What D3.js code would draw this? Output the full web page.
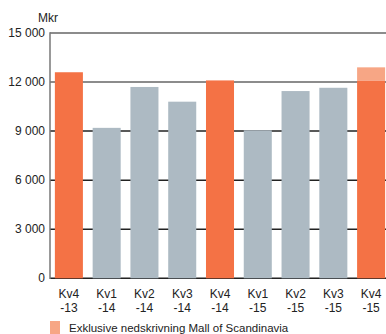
<!DOCTYPE html>
<html>
<head>
<meta charset="utf-8">
<script src="https://cdn.jsdelivr.net/npm/d3@7"></script>
<style>
  body { margin: 0; background: #fff; }
  text { font-family: "Liberation Sans", Arial, sans-serif; fill: #222; }
</style>
</head>
<body>
<div id="chart"></div>
<script>
// kvartal och resultat (Mkr)
var quarters = ["Kv4", "Kv1", "Kv2", "Kv3", "Kv4", "Kv1", "Kv2", "Kv3", "Kv4"];
var years = ["-13", "-14", "-14", "-14", "-14", "-15", "-15", "-15", "-15"];
var values = [12600, 9200, 11700, 10800, 12100, 9050, 11450, 11650, 12100];
var extra = [0, 0, 0, 0, 0, 0, 0, 0, 800];   // exklusive nedskrivning
var highlight = [true, false, false, false, true, false, false, false, true];
var yTicks = [0, 3000, 6000, 9000, 12000, 15000];
var legendLabel = "Exklusive nedskrivning Mall of Scandinavia";

var width = 386, height = 334;
var margins = {top: 33, bottom: 56, left: 50, right: -4};

var svg = d3.select('#chart').append('svg')
    .attr('width', width)
    .attr('height', height);

var x_scale = d3.scaleBand()
    .domain(d3.range(values.length))
    .range([margins.left, width - margins.right])
    .paddingInner(0.258)
    .paddingOuter(0.129);

var y_scale = d3.scaleLinear()
    .domain([0, 15000])
    .range([height - margins.bottom + 0.3, margins.top]);

// gridlines
svg.append('g')
    .selectAll('line')
    .data(yTicks)
    .enter().append('line')
    .attr('x1', margins.left)
    .attr('x2', width)
    .attr('y1', function (d) { return y_scale(d); })
    .attr('y2', function (d) { return y_scale(d); })
    .attr('stroke', function (d) { return d >= 12000 ? '#666' : '#222'; })
    .attr('stroke-width', 1.5);

// tick labels
svg.append('g')
    .selectAll('text')
    .data(yTicks)
    .enter().append('text')
    .attr('x', 45)
    .attr('y', function (d) { return y_scale(d) + 4; })
    .attr('text-anchor', 'end')
    .attr('font-size', '12px')
    .text(function (d) { return d3.format(',')(d).replace(',', ' '); });

svg.append('text')
    .attr('x', 38)
    .attr('y', 22)
    .attr('font-size', '12px')
    .text('Mkr');

// bars
svg.append('g')
    .selectAll('rect')
    .data(values)
    .enter().append('rect')
    .attr('x', function (d, i) { return x_scale(i); })
    .attr('width', x_scale.bandwidth())
    .attr('y', function (d) { return y_scale(d); })
    .attr('height', function (d) { return y_scale(0) - y_scale(d); })
    .attr('fill', function (d, i) { return highlight[i] ? '#f47245' : '#adbac3'; });

// stacked part on top (exklusive nedskrivning)
svg.append('g')
    .selectAll('rect')
    .data(extra)
    .enter().append('rect')
    .attr('x', function (d, i) { return x_scale(i); })
    .attr('width', x_scale.bandwidth())
    .attr('y', function (d, i) { return y_scale(values[i] + d); })
    .attr('height', function (d) { return y_scale(0) - y_scale(d); })
    .attr('fill', '#f7a685');

// y axis line
svg.append('line')
    .attr('x1', margins.left)
    .attr('x2', margins.left)
    .attr('y1', y_scale(15000) - 0.75)
    .attr('y2', y_scale(0) + 0.75)
    .attr('stroke', '#777')
    .attr('stroke-width', 1.5);

// x labels
var xl = svg.append('g')
    .selectAll('g')
    .data(quarters)
    .enter().append('g')
    .attr('transform', function (d, i) {
        return 'translate(' + (x_scale(i) + x_scale.bandwidth() / 2) + ',0)';
    });

xl.append('text')
    .attr('y', 298)
    .attr('text-anchor', 'middle')
    .attr('font-size', '12px')
    .text(function (d) { return d; });

xl.append('text')
    .attr('y', 312)
    .attr('text-anchor', 'middle')
    .attr('font-size', '12px')
    .text(function (d, i) { return years[i]; });

// legend
svg.append('rect')
    .attr('x', 50)
    .attr('y', 321)
    .attr('width', 10)
    .attr('height', 13)
    .attr('fill', '#f7a685');

svg.append('text')
    .attr('x', 69)
    .attr('y', 332)
    .attr('font-size', '11.5px')
    .text(legendLabel);
</script>
</body>
</html>
